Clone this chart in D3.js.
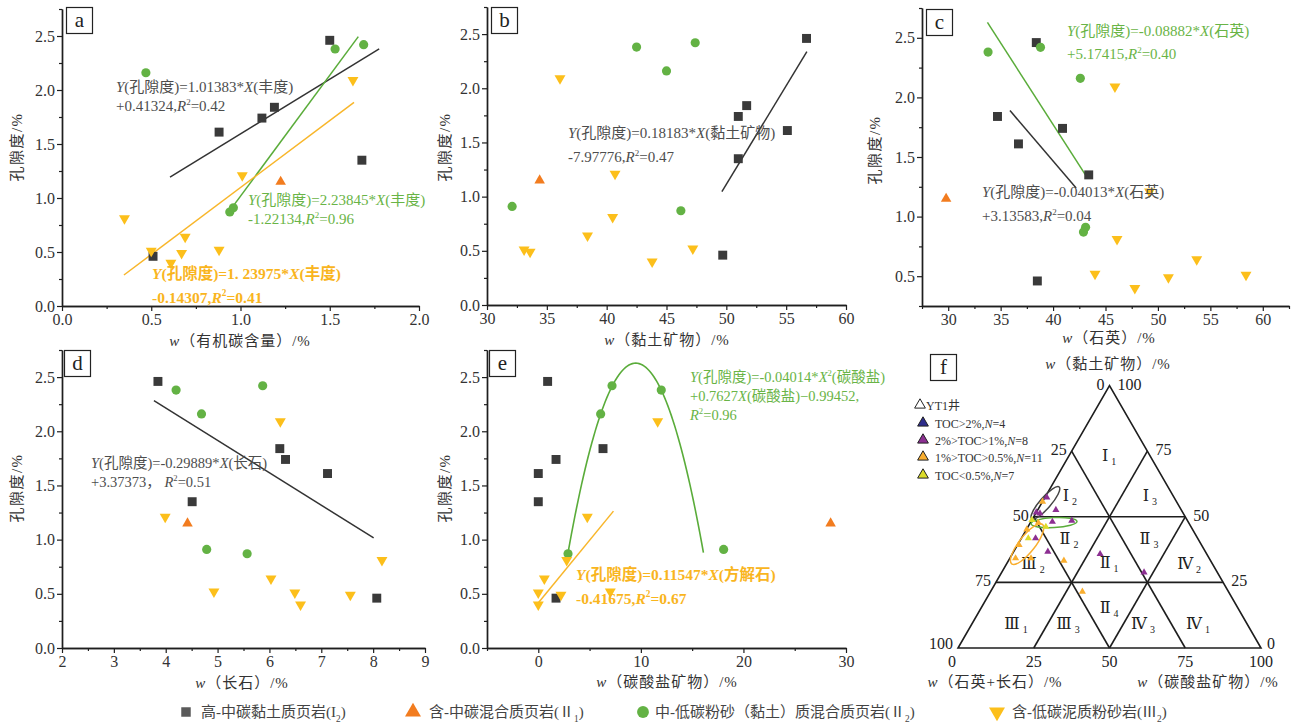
<!DOCTYPE html>
<html>
<head>
<meta charset="utf-8">
<script src="https://cdn.jsdelivr.net/npm/d3@7"></script>
<style>
  body { margin: 0; background: #fff; }
  svg { display: block; }
</style>
</head>
<body>
<script>
// ---------- sample data ----------
// porosity (%) of each sample, grouped by lithofacies
const porosityI2   = [2.46, 1.61, 1.74, 1.84, 1.35, 0.46];
const porosityII1  = [1.15];
const porosityII2  = [2.16, 2.38, 2.42, 0.87, 0.91];
const porosityIII2 = [0.81, 0.51, 0.40, 0.49, 0.64, 0.52, 1.21, 2.09];

// organic carbon content (%)
const tocI2   = [1.50, 0.88, 1.12, 1.19, 1.68, 0.51];
const tocII1  = [1.225];
const tocII2  = [0.47, 1.53, 1.69, 0.94, 0.96];
const tocIII2 = [0.35, 0.50, 0.61, 0.67, 0.69, 0.88, 1.01, 1.63];

// clay minerals (%)
const clayI2   = [56.7, 55.1, 51.0, 51.7, 51.0, 49.7];
const clayII1  = [34.4];
const clayII2  = [45.0, 42.5, 47.4, 46.2, 32.1];
const clayIII2 = [40.5, 33.1, 43.8, 33.6, 38.4, 47.2, 40.7, 36.1];

// quartz (%)
const quartzI2   = [38.4, 36.7, 40.9, 34.7, 43.4, 38.5];
const quartzII1  = [29.8];
const quartzII2  = [42.6, 33.8, 38.8, 42.9, 43.1];
const quartzIII2 = [46.1, 58.4, 47.8, 51.0, 53.7, 44.0, 49.2, 45.9];

// feldspar (%)
const feldsparI2   = [3.85, 7.12, 6.31, 6.20, 4.51, 8.07];
const feldsparII1  = [4.42];
const feldsparII2  = [4.69, 4.20, 5.87, 5.57, 4.79];
const feldsparIII2 = [8.17, 6.49, 6.60, 7.56, 6.03, 4.93, 3.99, 6.21];

// carbonate minerals (%)
const carbI2   = [0.91, 0.0, 1.73, 6.31, 0.0, 1.73];
const carbII1  = [28.5];
const carbII2  = [6.08, 11.99, 7.19, 2.90, 18.07];
const carbIII2 = [2.77, 0.0, 0.0, 2.21, 0.59, 7.02, 4.78, 11.64];

// tick labels
const ticksPorosity  = [0, 0.5, 1.0, 1.5, 2.0, 2.5];
const ticksPorosityC = [0.5, 1.0, 1.5, 2.0, 2.5];
const ticksToc       = [0, 0.5, 1.0, 1.5, 2.0];
const ticksClay      = [30, 35, 40, 45, 50, 55, 60];
const ticksQuartz    = [30, 35, 40, 45, 50, 55, 60];
const ticksFeldspar  = [2, 3, 4, 5, 6, 7, 8, 9];
const ticksCarb      = [0, 10, 20, 30];
const ticksTernary   = [0, 25, 50, 75, 100];

// fitted trends: slope, intercept, x extent
const fitsA = [
  { group: "I2",   slope: 1.01383, intercept: 0.58,     extent: [0.605, 1.777] },
  { group: "II2",  slope: 2.23845, intercept: -1.22134, extent: [0.941, 1.660] },
  { group: "III2", slope: 1.23975, intercept: -0.14307, extent: [0.347, 1.636] }
];
const fitsB = [
  { group: "I2", slope: 0.18183, intercept: -7.97776, extent: [49.63, 56.73] }
];
const fitsC = [
  { group: "II2", slope: -0.1369, intercept: 7.249, extent: [33.74, 43.09] },
  { group: "I2",  slope: -0.103,  intercept: 5.586, extent: [35.89, 42.2] }
];
const fitsD = [
  { group: "I2", slope: -0.29889, intercept: 3.41, extent: [3.773, 8.01] }
];
const fitsE = [
  { group: "III2", slope: 0.11547, intercept: 0.41675, extent: [0.03, 7.33] }
];
// quadratic trend of the II2 group against carbonate
const quadE = { group: "II2", a: -0.04014, b: 0.7627, c: -0.99452, extent: [2.9, 16.1] };

// regression equations (_italic_, ^superscript^, ~subscript~)
const eqA_I2   = ["_Y_(孔隙度)=1.01383*_X_(丰度)", "+0.41324,_R_^2^=0.42"];
const eqA_II2  = ["_Y_(孔隙度)=2.23845*_X_(丰度)", "-1.22134,_R_^2^=0.96"];
const eqA_III2 = ["_Y_(孔隙度)=1. 23975*_X_(丰度)", "-0.14307,_R_^2^=0.41"];
const eqB_I2   = ["_Y_(孔隙度)=0.18183*_X_(黏土矿物)", "-7.97776,_R_^2^=0.47"];
const eqC_II2  = ["_Y_(孔隙度)=-0.08882*_X_(石英)", "+5.17415,_R_^2^=0.40"];
const eqC_I2   = ["_Y_(孔隙度)=-0.04013*_X_(石英)", "+3.13583,_R_^2^=0.04"];
const eqD_I2   = ["_Y_(孔隙度)=-0.29889*_X_(长石)", "+3.37373， _R_^2^=0.51"];
const eqE_II2  = ["_Y_(孔隙度)=-0.04014*_X_^2^(碳酸盐)", "+0.7627_X_(碳酸盐)−0.99452,", "_R_^2^=0.96"];
const eqE_III2 = ["_Y_(孔隙度)=0.11547*_X_(方解石)", "-0.41675,_R_^2^=0.67"];

// ternary samples: [clay, quartz+feldspar, carbonate] (%)
const ternaryTocHigh = [];
const ternaryToc1to2 = [
  [57.4, 42.0, 0.6], [52.6, 41.4, 6.0], [51.7, 48.3, 0.0], [51.3, 47.3, 1.4],
  [48.1, 44.8, 7.1], [48.5, 38.2, 13.3], [41.8, 53.5, 4.7], [36.7, 52.0, 11.3],
  [35.8, 35.2, 29.0], [28.8, 24.2, 47.0]
];
const ternaryToc05to1 = [
  [55.8, 44.2, 0.0], [47.8, 49.6, 2.6], [45.2, 54.7, 0.1], [39.3, 60.2, 0.5],
  [34.2, 63.9, 1.9], [34.2, 58.8, 7.0], [33.3, 48.4, 18.3], [21.5, 48.2, 30.3]
];
const ternaryTocLow = [
  [48.8, 51.2, 0.0], [46.2, 47.9, 5.9], [41.8, 55.9, 2.3]
];
// lithofacies fields of the ternary diagram: name, subscript, [clay, carbonate] of label
const ternaryFields = [
  ["Ⅰ", "1", [73.6, 14.4]], ["Ⅰ", "2", [58.3, 9.1]], ["Ⅰ", "3", [58.3, 35.5]],
  ["Ⅱ", "2", [41.9, 17.0]], ["Ⅱ", "3", [41.9, 43.4]], ["Ⅱ", "1", [32.8, 34.8]],
  ["Ⅲ", "2", [32.4, 9.9]],  ["Ⅳ", "2", [32.4, 61.4]], ["Ⅱ", "4", [15.6, 43.4]],
  ["Ⅲ", "1", [9.5, 15.7]],  ["Ⅲ", "3", [9.5, 32.9]],  ["Ⅳ", "3", [9.5, 57.6]],
  ["Ⅳ", "1", [9.5, 75.8]]
];
// ternary legend rows
const ternaryLegend = [
  ["open",  "YT1井"],
  ["high",  "TOC>2%,_N_=4"],
  ["mid",   "2%>TOC>1%,_N_=8"],
  ["low",   "1%>TOC>0.5%,_N_=11"],
  ["vlow",  "TOC<0.5%,_N_=7"]
];
// main legend
const legendItems = [
  ["I2",   "高-中碳黏土质页岩(I~2~)"],
  ["II1",  "含-中碳混合质页岩(Ⅱ~1~)"],
  ["II2",  "中-低碳粉砂（黏土）质混合质页岩(Ⅱ~2~)"],
  ["III2", "含-低碳泥质粉砂岩(Ⅲ~2~)"]
];

// ---------- styles ----------
const FONT = '"Liberation Serif","Times New Roman","Noto Sans CJK SC",serif';
const markColor = { I2: "#3a3a3a", II1: "#f27c1f", II2: "#63b244", III2: "#fcbf1b" };
const lineColor = { I2: "#333333", II2: "#5aac3a", III2: "#f8b62a" };
const eqColor   = { I2: "#4d4d4d", II2: "#69b446", III2: "#f9b51e" };
const markShape = {
  I2:   d3.symbol().type(d3.symbolSquare).size(80),
  II1:  d3.symbol().type(d3.symbolTriangle).size(48),
  II2:  d3.symbol().type(d3.symbolCircle).size(66),
  III2: d3.symbol().type(d3.symbolTriangle).size(52)
};
const markRotate = { I2: 0, II1: 0, II2: 0, III2: 180 };
const ternColor = { high: "#2e2d8c", mid: "#8c2f92", low: "#f9ae2f", vlow: "#dcdc2a" };

const svg = d3.select("body").append("svg")
  .attr("width", 1291).attr("height", 725)
  .style("font-family", FONT);

// text with italic / superscript / subscript runs
function rich(parent, x, y, markup, o = {}) {
  const size = o.size || 15;
  const t = parent.append("text")
    .attr("x", x).attr("y", y)
    .attr("font-size", size)
    .attr("fill", o.fill || "#333")
    .attr("font-weight", o.weight || "normal")
    .attr("text-anchor", o.anchor || "start")
    .style("letter-spacing", (o.ls || 0) + "px");
  const parts = markup.split(/(_[^_]+_|\^[^\^]+\^|~[^~]+~)/).filter(s => s.length);
  let shift = 0;
  parts.forEach(p => {
    let txt = p, dy = 0, fs = null, it = false;
    if (p[0] === "_") { txt = p.slice(1, -1); it = true; }
    else if (p[0] === "^") { txt = p.slice(1, -1); dy = -0.42 * size; fs = 0.6 * size; }
    else if (p[0] === "~") { txt = p.slice(1, -1); dy = 0.3 * size; fs = 0.62 * size; }
    const ts = t.append("tspan").attr("dy", dy - shift).text(txt);
    shift = dy;
    if (fs) ts.attr("font-size", fs);
    if (it) ts.attr("font-style", "italic");
  });
  return t;
}

function letterBox(x, y, letter) {
  svg.append("rect").attr("x", x + 0.5).attr("y", y + 0.5).attr("width", 26).attr("height", 26)
    .attr("fill", "#fff").attr("stroke", "#222").attr("stroke-width", 1.2);
  svg.append("text").attr("x", x + 13.5).attr("y", y + 19.5).attr("text-anchor", "middle")
    .attr("font-size", 21).attr("fill", "#222").text(letter);
}

function minorOf(domain, step, majors) {
  return d3.range(domain[0], domain[1] + 1e-9, step)
    .filter(v => !majors.some(m => Math.abs(m - v) < 1e-9));
}

function styleAxis(g) {
  g.select(".domain").attr("stroke", "#1e1e1e").attr("stroke-width", 1.4);
  g.selectAll(".tick line").attr("stroke", "#1e1e1e").attr("stroke-width", 1.2);
  g.selectAll(".tick text").attr("font-family", FONT).attr("font-size", 16).attr("fill", "#333");
}

function drawPanel(p) {
  const g = svg.append("g");
  const x = d3.scaleLinear().domain(p.xd).range([p.box[0], p.box[1]]);
  const y = d3.scaleLinear().domain(p.yd).range([p.box[3], p.box[2]]);

  // axes: minor then major ticks
  const xm = minorOf(p.xd, p.xStep, p.xTicks);
  const ym = minorOf(p.yd, p.yStep, p.yTicks);
  g.append("g").attr("transform", `translate(0,${p.box[3]})`)
    .call(d3.axisBottom(x).tickValues(xm).tickSize(3).tickSizeOuter(0).tickFormat(""))
    .call(styleAxis);
  g.append("g").attr("transform", `translate(0,${p.box[3]})`)
    .call(d3.axisBottom(x).tickValues(p.xTicks).tickSize(5).tickSizeOuter(0).tickPadding(3).tickFormat(d3.format(p.xFmt)))
    .call(styleAxis);
  g.append("g").attr("transform", `translate(${p.box[0]},0)`)
    .call(d3.axisLeft(y).tickValues(ym).tickSize(3).tickSizeOuter(0).tickFormat(""))
    .call(styleAxis);
  g.append("g").attr("transform", `translate(${p.box[0]},0)`)
    .call(d3.axisLeft(y).tickValues(p.yTicks).tickSize(5).tickSizeOuter(0).tickPadding(2).tickFormat(d3.format(".1f")))
    .call(styleAxis);

  // axis titles
  rich(g, p.xTitlePos[0], p.xTitlePos[1], p.xTitle, { size: 15, anchor: "middle", ls: 1, fill: "#333" });
  rich(g.append("g").attr("transform", `translate(${p.yTitlePos[0]},${p.yTitlePos[1]}) rotate(-90)`),
    0, 5, "孔隙度/%", { size: 15, anchor: "middle", ls: 1.5, fill: "#333" });

  // trend lines
  (p.fits || []).forEach(f => {
    g.append("line")
      .attr("x1", x(f.extent[0])).attr("y1", y(f.slope * f.extent[0] + f.intercept))
      .attr("x2", x(f.extent[1])).attr("y2", y(f.slope * f.extent[1] + f.intercept))
      .attr("stroke", lineColor[f.group]).attr("stroke-width", 1.5);
  });
  if (p.quad) {
    const q = p.quad;
    const xs = d3.range(q.extent[0], q.extent[1] + 1e-9, (q.extent[1] - q.extent[0]) / 80);
    g.append("path")
      .attr("d", d3.line().x(v => x(v)).y(v => y(q.a * v * v + q.b * v + q.c)).curve(d3.curveLinear)(xs))
      .attr("fill", "none").attr("stroke", lineColor[q.group]).attr("stroke-width", 1.6);
  }

  // samples
  p.series.forEach(s => {
    g.append("g").selectAll("path").data(s.x.map((v, i) => [v, s.y[i]])).join("path")
      .attr("d", markShape[s.group])
      .attr("transform", d => `translate(${x(d[0])},${y(d[1])}) rotate(${markRotate[s.group]})`)
      .attr("fill", markColor[s.group]);
  });

  // equations
  (p.eqs || []).forEach(e => {
    e.lines.forEach((ln, i) => rich(g, e.pos[0], e.pos[1] + i * e.lh, ln,
      { size: e.size, fill: eqColor[e.group], weight: e.bold ? "bold" : "normal" }));
  });

  letterBox(p.letterPos[0], p.letterPos[1], p.letter);
}

const seriesFrom = (xI2, xII1, xII2, xIII2) => [
  { group: "I2",   x: xI2,   y: porosityI2 },
  { group: "II1",  x: xII1,  y: porosityII1 },
  { group: "II2",  x: xII2,  y: porosityII2 },
  { group: "III2", x: xIII2, y: porosityIII2 }
];

drawPanel({
  letter: "a", letterPos: [66, 7], box: [62, 419, 9, 306],
  xd: [0, 2], yd: [0, 2.75], xTicks: ticksToc, yTicks: ticksPorosity, xStep: 0.25, yStep: 0.25, xFmt: ".1f",
  xTitle: "_w_（有机碳含量）/%", xTitlePos: [240, 346], yTitlePos: [17, 147],
  series: seriesFrom(tocI2, tocII1, tocII2, tocIII2),
  fits: fitsA,
  eqs: [
    { group: "I2",   lines: eqA_I2,   pos: [116, 92],  lh: 19, size: 15 },
    { group: "II2",  lines: eqA_II2,  pos: [248, 205], lh: 19, size: 15 },
    { group: "III2", lines: eqA_III2, pos: [152, 279], lh: 24, size: 15.5, bold: true }
  ]
});

drawPanel({
  letter: "b", letterPos: [491, 7], box: [487, 846, 7, 305],
  xd: [30, 60], yd: [0, 2.75], xTicks: ticksClay, yTicks: ticksPorosity, xStep: 2.5, yStep: 0.25, xFmt: "d",
  xTitle: "_w_（黏土矿物）/%", xTitlePos: [667, 345], yTitlePos: [445, 147],
  series: seriesFrom(clayI2, clayII1, clayII2, clayIII2),
  fits: fitsB,
  eqs: [{ group: "I2", lines: eqB_I2, pos: [568, 138], lh: 24, size: 15 }]
});

drawPanel({
  letter: "c", letterPos: [926, 9], box: [922, 1289, 8, 306],
  xd: [27.5, 62.5], yd: [0.25, 2.75], xTicks: ticksQuartz, yTicks: ticksPorosityC, xStep: 2.5, yStep: 0.25, xFmt: "d",
  xTitle: "_w_（石英）/%", xTitlePos: [1109, 343], yTitlePos: [875, 150],
  series: seriesFrom(quartzI2, quartzII1, quartzII2, quartzIII2),
  fits: fitsC,
  eqs: [
    { group: "II2", lines: eqC_II2, pos: [1067, 36],  lh: 23, size: 15 },
    { group: "I2",  lines: eqC_I2,  pos: [982, 197],  lh: 24, size: 15 }
  ]
});

drawPanel({
  letter: "d", letterPos: [64, 350], box: [62, 425, 350, 648],
  xd: [2, 9], yd: [0, 2.75], xTicks: ticksFeldspar, yTicks: ticksPorosity, xStep: 0.5, yStep: 0.25, xFmt: "d",
  xTitle: "_w_（长石）/%", xTitlePos: [242, 688], yTitlePos: [17, 488],
  series: seriesFrom(feldsparI2, feldsparII1, feldsparII2, feldsparIII2),
  fits: fitsD,
  eqs: [{ group: "I2", lines: eqD_I2, pos: [91, 468], lh: 19, size: 14.5 }]
});

drawPanel({
  letter: "e", letterPos: [489, 350], box: [487, 846, 350, 648],
  xd: [-5, 30], yd: [0, 2.75], xTicks: ticksCarb, yTicks: ticksPorosity, xStep: 5, yStep: 0.25, xFmt: "d",
  xTitle: "_w_（碳酸盐矿物）/%", xTitlePos: [667, 687], yTitlePos: [445, 488],
  series: seriesFrom(carbI2, carbII1, carbII2, carbIII2),
  fits: fitsE, quad: quadE,
  eqs: [
    { group: "II2",  lines: eqE_II2,  pos: [690, 382], lh: 19, size: 14.5 },
    { group: "III2", lines: eqE_III2, pos: [576, 580], lh: 24, size: 15.5, bold: true }
  ]
});

// ---------- ternary diagram ----------
const tri = { left: 958, right: 1261, bottom: 648 };
const side = tri.right - tri.left;
const triH = side * Math.sqrt(3) / 2;
const tx = d3.scaleLinear().domain([0, 100]).range([tri.left, tri.right]);
const ty = d3.scaleLinear().domain([0, 100]).range([tri.bottom, tri.bottom - triH]);
// position of a composition given clay and carbonate percentages
const tern = (clay, carb) => [tx(carb + clay / 2), ty(clay)];

const tg = svg.append("g");
const TL = tern(0, 0), TR = tern(0, 100), TT = tern(100, 0);
tg.append("path").attr("d", `M${TL}L${TR}L${TT}Z`)
  .attr("fill", "none").attr("stroke", "#1e1e1e").attr("stroke-width", 1.6).attr("stroke-linejoin", "miter");

// internal field boundaries: [clay, carb] -> [clay, carb]
const boundaries = [
  [[50, 0], [50, 50]], [[25, 0], [25, 75]],
  [[75, 0], [0, 75]], [[75, 25], [0, 25]],
  [[50, 0], [0, 50]], [[50, 50], [0, 50]]
];
boundaries.forEach(([a, b]) => {
  const p1 = tern(a[0], a[1]), p2 = tern(b[0], b[1]);
  tg.append("line").attr("x1", p1[0]).attr("y1", p1[1]).attr("x2", p2[0]).attr("y2", p2[1])
    .attr("stroke", "#1e1e1e").attr("stroke-width", 1.6);
});

// scale labels along the three sides (corner labels lifted clear of the base labels)
ticksTernary.forEach(v => {
  const pl = tern(100 - v, 0);        // quartz+feldspar on the left side
  tg.append("text").attr("x", pl[0] - 5).attr("y", pl[1] + (v === 100 ? 1 : 4)).attr("text-anchor", "end")
    .attr("font-size", 16).attr("fill", "#222").text(v);
  const pb = tern(0, v);              // carbonate along the base
  tg.append("text").attr("x", pb[0] + (v === 0 ? -6 : 0)).attr("y", pb[1] + 19).attr("text-anchor", "middle")
    .attr("font-size", 16).attr("fill", "#222").text(v);
  if (v > 0) {
    const pr = tern(v, 100 - v);      // clay on the right side
    tg.append("text").attr("x", pr[0] + 8).attr("y", pr[1] + 4).attr("text-anchor", "start")
      .attr("font-size", 16).attr("fill", "#222").text(v);
  }
});
tg.append("text").attr("x", tern(0, 100)[0] + 6).attr("y", tern(0, 100)[1] + 1)
  .attr("font-size", 16).attr("fill", "#222").text(0);

// field names
ternaryFields.forEach(([name, sub, pos]) => {
  const p = tern(pos[0], pos[1]);
  const t = tg.append("text").attr("x", p[0] - 4).attr("y", p[1] + 6).attr("font-size", 17)
    .attr("fill", "#222").attr("text-anchor", "middle");
  t.append("tspan").attr("font-family", '"DejaVu Serif","Liberation Serif",serif').attr("font-size", 16).text(name);
  t.append("tspan").attr("dx", 3).attr("dy", 4).attr("font-size", 10).text(sub);
});

// grouping ellipses: centre [clay, carb], radii and tilt
const ellipses = [
  { c: [55.3, 1.2], rx: 21, ry: 5.5, rot: -49, stroke: "#444" },
  { c: [47.8, 7.8], rx: 23, ry: 5, rot: -3, stroke: "#5aac3a" },
  { c: [39.6, 3.0], rx: 25, ry: 8, rot: -52, stroke: "#f9ae2f" }
];
ellipses.forEach(e => {
  const p = tern(e.c[0], e.c[1]);
  tg.append("ellipse").attr("cx", 0).attr("cy", 0).attr("rx", e.rx).attr("ry", e.ry)
    .attr("transform", `translate(${p[0]},${p[1]}) rotate(${e.rot})`)
    .attr("fill", "none").attr("stroke", e.stroke).attr("stroke-width", 1.5);
});

// samples
const tSym = d3.symbol().type(d3.symbolTriangle).size(22);
[["high", ternaryTocHigh], ["mid", ternaryToc1to2], ["low", ternaryToc05to1], ["vlow", ternaryTocLow]]
  .forEach(([key, arr]) => {
    tg.append("g").selectAll("path").data(arr).join("path")
      .attr("d", tSym)
      .attr("transform", d => { const p = tern(d[0], d[2]); return `translate(${p[0]},${p[1]})`; })
      .attr("fill", ternColor[key]);
  });

// axis titles of the ternary diagram
rich(tg, 1108, 369, "_w_（黏土矿物）/%", { size: 15, anchor: "middle", ls: 1, fill: "#333" });
rich(tg, 995, 687, "_w_（石英+长石）/%", { size: 15, anchor: "middle", ls: 1, fill: "#333" });
rich(tg, 1208, 687, "_w_（碳酸盐矿物）/%", { size: 15, anchor: "middle", ls: 1, fill: "#333" });

// ternary legend
const legSym = d3.symbol().type(d3.symbolTriangle).size(50);
const legRows = [406, 424, 441, 458, 476];
ternaryLegend.forEach(([key, label], i) => {
  const cx = i === 0 ? 920 : 923;
  tg.append("path").attr("d", legSym)
    .attr("transform", `translate(${cx},${legRows[i] - 1})`)
    .attr("fill", key === "open" ? "#fff" : ternColor[key])
    .attr("stroke", "#222").attr("stroke-width", 1);
  rich(tg, i === 0 ? 926 : 935, legRows[i] + 4, label, { size: 12, fill: "#333" });
});

letterBox(930, 354, "f");

// ---------- legend ----------
const lg = svg.append("g");
const legX = [[186, 201], [413, 429], [643, 655], [997, 1012]];
legendItems.forEach(([group, label], i) => {
  const sym = group === "I2" ? d3.symbol().type(d3.symbolSquare).size(90)
    : group === "II2" ? d3.symbol().type(d3.symbolCircle).size(110)
    : d3.symbol().type(d3.symbolTriangle).size(110);
  lg.append("path").attr("d", sym)
    .attr("transform", `translate(${legX[i][0]},712) rotate(${markRotate[group]})`)
    .attr("fill", group === "I2" ? "#5a5a5a" : markColor[group]);
  rich(lg, legX[i][1], 717, label, { size: 15, fill: "#444" });
});
</script>
</body>
</html>
